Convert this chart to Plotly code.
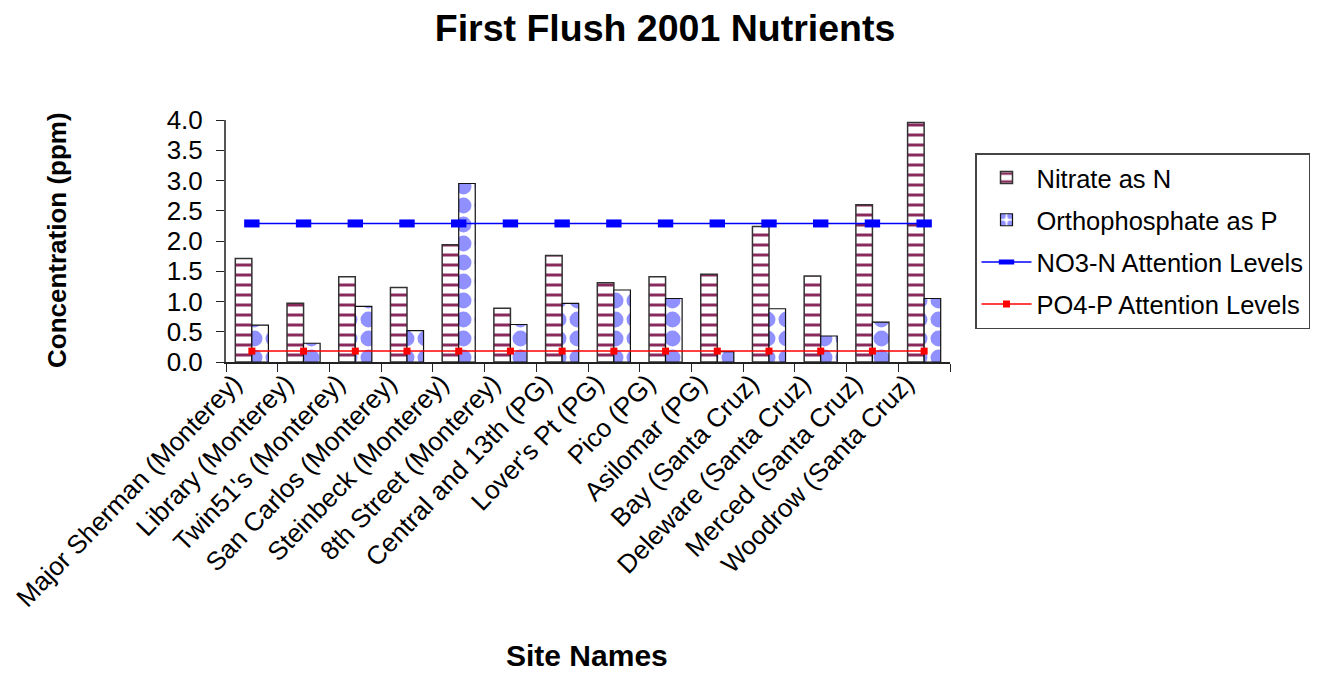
import plotly.graph_objects as go

sites = ["Major Sherman (Monterey)", "Library (Monterey)", "Twin51's (Monterey)",
         "San Carlos (Monterey)", "Steinbeck (Monterey)", "8th Street (Monterey)",
         "Central and 13th (PG)", "Lover's Pt (PG)", "Pico (PG)", "Asilomar (PG)",
         "Bay (Santa Cruz)", "Deleware (Santa Cruz)", "Merced (Santa Cruz)",
         "Woodrow (Santa Cruz)"]
nitrate = [1.71, 0.97, 1.41, 1.23, 1.94, 0.89, 1.76, 1.31, 1.41, 1.45, 2.24, 1.42, 2.60, 3.96]
phosphate = [0.61, 0.31, 0.92, 0.52, 2.95, 0.62, 0.97, 1.19, 1.05, 0.17, 0.88, 0.43, 0.66, 1.05]
no3_level = [2.29] * len(sites)
po4_level = [0.18] * len(sites)
y_ticks = [0, 0.5, 1.0, 1.5, 2.0, 2.5, 3.0, 3.5, 4.0]

FONT = "Liberation Sans, Arial, sans-serif"
OFF = 8  # page body margin
W, H = 1324 - OFF, 673 - OFF
PL, PR, PT, PB = 226, 950, 120, 362  # plot area in page pixels
pw, ph = PR - PL, PB - PT


def px(x):
    return (x - PL) / pw


def py(y):
    return (PB - y) / ph


fig = go.Figure()
fig.add_trace(go.Bar(
    x=sites, y=nitrate, name="Nitrate as N", legendgroup="a",
    marker=dict(color="white", line=dict(color="#333333", width=1.5),
                pattern=dict(shape="-", fgcolor="#8a2a5c", bgcolor="white",
                             size=10, solidity=0.3, fgopacity=1)),
))
fig.add_trace(go.Bar(
    x=sites, y=phosphate, name="Orthophosphate as P", legendgroup="b",
    marker=dict(color="white", line=dict(color="#111111", width=1.2),
                pattern=dict(shape=".", fgcolor="#9090ff", bgcolor="white",
                             size=19, solidity=0.55, fgopacity=1)),
))
fig.add_trace(go.Scatter(
    x=sites, y=no3_level, name="NO3-N Attention Levels", legendgroup="c",
    mode="lines+markers",
    line=dict(color="#0000ff", width=1.5),
    marker=dict(symbol="line-ew", size=11, line=dict(color="#0000ff", width=8), color="#0000ff"),
))
fig.add_trace(go.Scatter(
    x=sites, y=po4_level, name="PO4-P Attention Levels", legendgroup="d",
    mode="lines+markers",
    line=dict(color="#ff0000", width=1.5),
    marker=dict(symbol="square", size=7, color="#ff0000"),
))

fig.update_layout(
    width=W, height=H,
    paper_bgcolor="white", plot_bgcolor="white",
    margin=dict(l=PL - OFF, r=W - (PR - OFF), t=PT - OFF, b=H - (PB - OFF), autoexpand=False),
    barmode="group", bargap=0.36, bargroupgap=0,
    font=dict(family=FONT, size=25, color="black"),
    title=dict(text="First Flush 2001 Nutrients", x=(665 - OFF) / W, xanchor="center",
               y=1 - (28 - OFF) / H, yanchor="middle", yref="container",
               font=dict(family=FONT, size=37.5, weight="bold", color="black")),
    showlegend=True,
    legend=dict(x=px(975), y=py(153), xanchor="left", yanchor="top",
                bordercolor="#444444", borderwidth=1.5, bgcolor="white",
                font=dict(family=FONT, size=25.5, color="black"),
                tracegroupgap=6, itemwidth=50, traceorder="grouped"),
    xaxis=dict(type="category", range=[-0.5, len(sites) - 0.5], autorange=False,
               showline=True, linecolor="#222222", linewidth=1.5,
               ticks="outside", ticklen=8, tickcolor="#222222", tickson="boundaries",
               tickangle=-46, showgrid=False, zeroline=False, automargin=False,
               ticklabelshift=-18, ticklabelstandoff=-6,
               tickfont=dict(family=FONT, size=26, color="black")),
    yaxis=dict(range=[0, 4], autorange=False, tickvals=y_ticks, tickformat=".1f", showline=True,
               linecolor="#555555", linewidth=2, ticks="outside", ticklen=8,
               tickcolor="#222222", showgrid=False, zeroline=False, automargin=False,
               ticklabelstandoff=8,
               tickfont=dict(family=FONT, size=26, color="black")),
    annotations=[
        dict(text="Concentration (ppm)", xref="paper", yref="paper",
             x=px(57), y=py(240), xanchor="center", yanchor="middle",
             textangle=-90, showarrow=False,
             font=dict(family=FONT, size=26, weight="bold", color="black")),
        dict(text="Site Names", xref="paper", yref="paper",
             x=px(587), y=py(655), xanchor="center", yanchor="middle",
             showarrow=False,
             font=dict(family=FONT, size=30, weight="bold", color="black")),
    ],
)

fig.write_html("out.html")
